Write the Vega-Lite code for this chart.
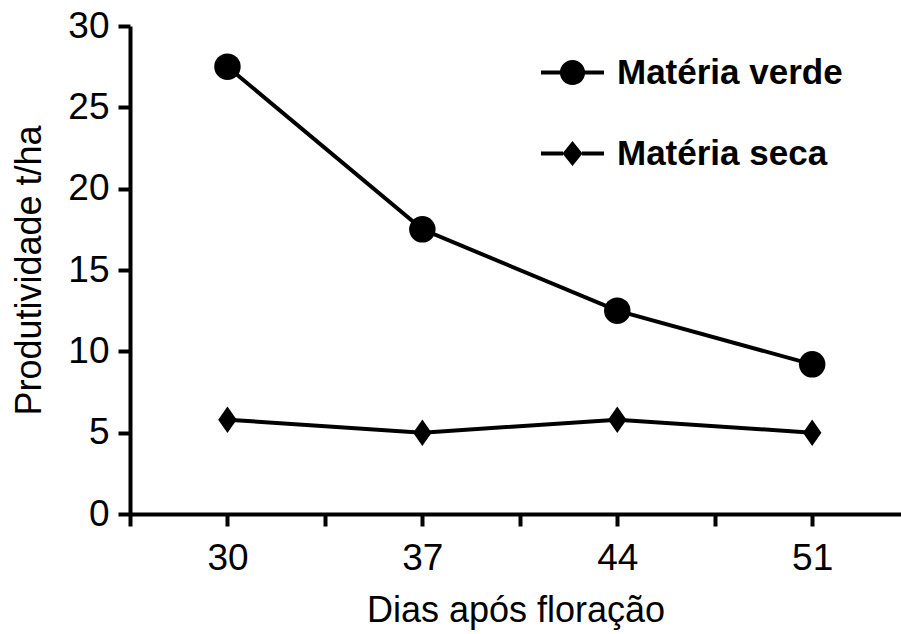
{
  "$schema": "https://vega.github.io/schema/vega-lite/v6.json",
  "width": 771,
  "height": 488,
  "autosize": {"type": "none"},
  "padding": {"left": 130, "top": 26, "right": 0, "bottom": 120},
  "background": "white",
  "config": {
    "view": {"stroke": null},
    "font": "Liberation Sans",
    "axis": {
      "grid": false,
      "domainColor": "black",
      "domainWidth": 4,
      "tickColor": "black",
      "tickWidth": 4,
      "tickSize": 12,
      "labelColor": "black",
      "labelFontSize": 37,
      "labelFont": "Liberation Sans",
      "titleFont": "Liberation Sans",
      "titleFontSize": 36,
      "titleFontWeight": "normal",
      "titleColor": "black"
    }
  },
  "data": {
    "values": [
      {"dias": 30, "prod": 27.5, "serie": "Matéria verde"},
      {"dias": 37, "prod": 17.5, "serie": "Matéria verde"},
      {"dias": 44, "prod": 12.5, "serie": "Matéria verde"},
      {"dias": 51, "prod": 9.2, "serie": "Matéria verde"},
      {"dias": 30, "prod": 5.8, "serie": "Matéria seca"},
      {"dias": 37, "prod": 5.0, "serie": "Matéria seca"},
      {"dias": 44, "prod": 5.8, "serie": "Matéria seca"},
      {"dias": 51, "prod": 5.0, "serie": "Matéria seca"}
    ]
  },
  "encoding": {
    "x": {
      "field": "dias",
      "type": "quantitative",
      "scale": {"domain": [26.5, 54.19], "nice": false, "zero": false},
      "axis": {
        "title": "Dias após floração",
        "values": [26.5, 30, 33.5, 37, 40.5, 44, 47.5, 51],
        "labelExpr": "datum.value % 7 == 2 ? datum.label : ''",
        "labelPadding": 14,
        "titlePadding": 17,
        "labelFlush": false,
        "labelOverlap": false
      }
    },
    "y": {
      "field": "prod",
      "type": "quantitative",
      "scale": {"domain": [0, 30], "nice": false},
      "axis": {
        "title": "Produtividade t/ha",
        "values": [0, 5, 10, 15, 20, 25, 30],
        "labelPadding": 9,
        "titlePadding": 19
      }
    }
  },
  "resolve": {"scale": {"shape": "independent"}, "legend": {"shape": "independent"}},
  "layer": [
    {
      "mark": {"type": "line", "strokeWidth": 4, "color": "black"},
      "encoding": {"detail": {"field": "serie"}}
    },
    {
      "mark": {"type": "point", "filled": true, "color": "black", "opacity": 1, "size": 700},
      "encoding": {
        "shape": {
          "field": "serie",
          "type": "nominal",
          "scale": {
            "domain": ["Matéria verde", "Matéria seca"],
            "range": ["circle", "M-0.7,0L0,-1L0.7,0L0,1Z"]
          },
          "legend": null
        }
      }
    },
    {
      "transform": [{"filter": "false"}],
      "mark": {"type": "point", "filled": true, "color": "black", "opacity": 1},
      "encoding": {
        "shape": {
          "field": "serie",
          "type": "nominal",
          "scale": {
            "domain": ["Matéria verde", "Matéria seca"],
            "range": [
              "M-1,-0.064H-0.39V0.064H-1ZM0.39,-0.064H1V0.064H0.39ZM-0.4,0A0.4,0.4 0 1 1 0.4,0A0.4,0.4 0 1 1 -0.4,0Z",
              "M-1,-0.064H-0.3V0.064H-1ZM0.3,-0.064H1V0.064H0.3ZM-0.32,0L0,-0.4L0.32,0L0,0.4Z"
            ]
          },
          "legend": {
            "title": null,
            "orient": "none",
            "legendX": 410,
            "legendY": 14,
            "padding": 0,
            "symbolSize": 3969,
            "symbolFillColor": "black",
            "symbolOpacity": 1,
            "rowPadding": 30,
            "labelOffset": 12,
            "labelFont": "Liberation Sans",
            "labelFontSize": 35,
            "labelFontWeight": "bold",
            "labelColor": "black",
            "labelLimit": 400
          }
        }
      }
    }
  ]
}
